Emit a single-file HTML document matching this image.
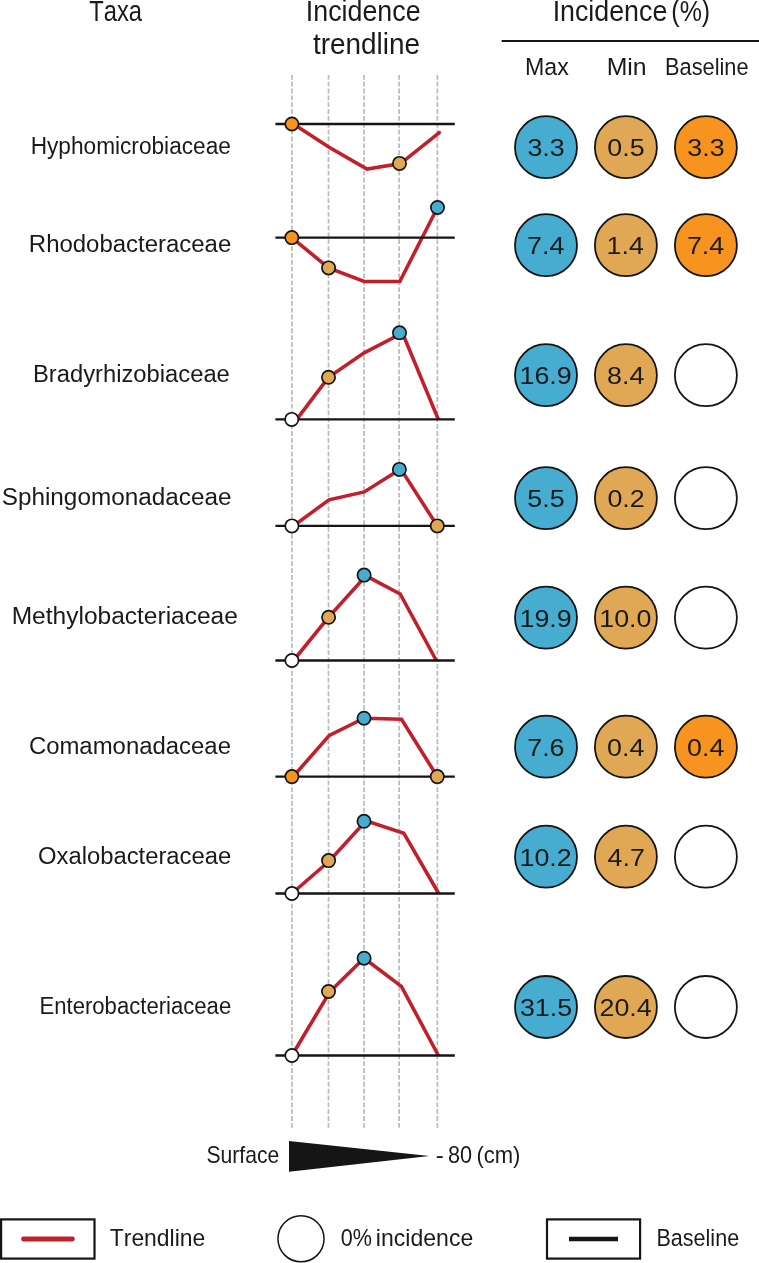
<!DOCTYPE html>
<html><head><meta charset="utf-8"><style>
html,body{margin:0;padding:0;background:#fff;}
body{width:759px;height:1263px;overflow:hidden;}
svg{display:block;will-change:transform;}
text{font-family:"Liberation Sans", sans-serif;font-kerning:none;}
</style></head><body>
<svg width="759" height="1263" viewBox="0 0 759 1263">
<rect width="759" height="1263" fill="#fff"/>
<text x="89.17" y="20.80" font-size="28.80" textLength="52.83" lengthAdjust="spacingAndGlyphs" fill="#1a1a1a">Taxa</text>
<text x="305.83" y="20.70" font-size="28.80" textLength="114.77" lengthAdjust="spacingAndGlyphs" fill="#1a1a1a">Incidence</text>
<text x="312.88" y="53.90" font-size="28.80" textLength="107.16" lengthAdjust="spacingAndGlyphs" fill="#1a1a1a">trendline</text>
<text x="552.63" y="21.00" font-size="28.80" textLength="114.66" lengthAdjust="spacingAndGlyphs" fill="#1a1a1a">Incidence</text>
<text x="671.35" y="21.00" font-size="28.80" textLength="38.79" lengthAdjust="spacingAndGlyphs" fill="#1a1a1a">(%)</text>
<line x1="501.7" y1="41" x2="759" y2="41" stroke="#151515" stroke-width="1.8"/>
<text x="525.00" y="74.50" font-size="24.50" textLength="43.75" lengthAdjust="spacingAndGlyphs" fill="#1a1a1a">Max</text>
<text x="606.67" y="74.50" font-size="24.50" textLength="39.94" lengthAdjust="spacingAndGlyphs" fill="#1a1a1a">Min</text>
<text x="665.01" y="74.80" font-size="24.50" textLength="83.55" lengthAdjust="spacingAndGlyphs" fill="#1a1a1a">Baseline</text>
<line x1="291.9" y1="74.9" x2="291.9" y2="1127.8" stroke="#bababa" stroke-width="1.7" stroke-dasharray="4.8 2.05"/>
<line x1="328.5" y1="74.9" x2="328.5" y2="1127.8" stroke="#bababa" stroke-width="1.7" stroke-dasharray="4.8 2.05"/>
<line x1="364.1" y1="74.9" x2="364.1" y2="1127.8" stroke="#bababa" stroke-width="1.7" stroke-dasharray="4.8 2.05"/>
<line x1="399.1" y1="74.9" x2="399.1" y2="1127.8" stroke="#bababa" stroke-width="1.7" stroke-dasharray="4.8 2.05"/>
<line x1="437.4" y1="74.9" x2="437.4" y2="1127.8" stroke="#bababa" stroke-width="1.7" stroke-dasharray="4.8 2.05"/>
<text x="30.64" y="154.00" font-size="24.70" textLength="200.27" lengthAdjust="spacingAndGlyphs" fill="#1a1a1a">Hyphomicrobiaceae</text>
<text x="28.84" y="252.40" font-size="24.70" textLength="202.43" lengthAdjust="spacingAndGlyphs" fill="#1a1a1a">Rhodobacteraceae</text>
<text x="32.95" y="382.10" font-size="24.70" textLength="196.91" lengthAdjust="spacingAndGlyphs" fill="#1a1a1a">Bradyrhizobiaceae</text>
<text x="1.70" y="505.10" font-size="24.70" textLength="229.78" lengthAdjust="spacingAndGlyphs" fill="#1a1a1a">Sphingomonadaceae</text>
<text x="11.69" y="624.40" font-size="24.70" textLength="226.20" lengthAdjust="spacingAndGlyphs" fill="#1a1a1a">Methylobacteriaceae</text>
<text x="28.89" y="753.80" font-size="24.70" textLength="202.08" lengthAdjust="spacingAndGlyphs" fill="#1a1a1a">Comamonadaceae</text>
<text x="37.97" y="863.70" font-size="24.70" textLength="193.29" lengthAdjust="spacingAndGlyphs" fill="#1a1a1a">Oxalobacteraceae</text>
<text x="39.49" y="1013.80" font-size="24.70" textLength="191.70" lengthAdjust="spacingAndGlyphs" fill="#1a1a1a">Enterobacteriaceae</text>
<polyline points="291.9,123.0 328.7,147.0 367.0,169.0 400.5,163.6 439.3,132.6" fill="none" stroke="#c1202b" stroke-width="3.6" stroke-linejoin="miter" stroke-linecap="butt"/>
<circle cx="439.3" cy="132.6" r="1.8" fill="#c1202b"/>
<line x1="275.4" y1="124.0" x2="454.8" y2="124.0" stroke="#151515" stroke-width="2.4"/>
<circle cx="291.9" cy="124.0" r="6.65" fill="#f6941f" stroke="#151515" stroke-width="1.7"/>
<circle cx="399.5" cy="163.4" r="6.65" fill="#e0a855" stroke="#151515" stroke-width="1.7"/>
<polyline points="291.8,237.6 328.6,267.9 364.2,281.5 399.8,281.5 437.5,207.5" fill="none" stroke="#c1202b" stroke-width="3.6" stroke-linejoin="miter" stroke-linecap="butt"/>
<line x1="275.4" y1="237.6" x2="454.8" y2="237.6" stroke="#151515" stroke-width="2.4"/>
<circle cx="291.8" cy="237.6" r="6.65" fill="#f6941f" stroke="#151515" stroke-width="1.7"/>
<circle cx="328.6" cy="267.9" r="6.65" fill="#e0a855" stroke="#151515" stroke-width="1.7"/>
<circle cx="437.5" cy="207.5" r="6.65" fill="#46acd0" stroke="#151515" stroke-width="1.7"/>
<polyline points="296.7,419.4 328.5,377.3 364.2,352.8 402.5,333.0 438.3,419.4" fill="none" stroke="#c1202b" stroke-width="3.6" stroke-linejoin="miter" stroke-linecap="butt"/>
<line x1="275.4" y1="419.4" x2="454.8" y2="419.4" stroke="#151515" stroke-width="2.4"/>
<circle cx="291.7" cy="419.4" r="6.65" fill="#ffffff" stroke="#151515" stroke-width="1.7"/>
<circle cx="328.5" cy="377.3" r="6.65" fill="#e0a855" stroke="#151515" stroke-width="1.7"/>
<circle cx="399.5" cy="332.8" r="6.65" fill="#46acd0" stroke="#151515" stroke-width="1.7"/>
<polyline points="293.5,525.9 329.0,499.8 364.2,491.9 400.7,468.9 437.3,525.9" fill="none" stroke="#c1202b" stroke-width="3.6" stroke-linejoin="miter" stroke-linecap="butt"/>
<line x1="275.4" y1="525.9" x2="454.8" y2="525.9" stroke="#151515" stroke-width="2.4"/>
<circle cx="291.9" cy="525.9" r="6.65" fill="#ffffff" stroke="#151515" stroke-width="1.7"/>
<circle cx="399.4" cy="469.4" r="6.65" fill="#46acd0" stroke="#151515" stroke-width="1.7"/>
<circle cx="437.3" cy="525.9" r="6.65" fill="#e0a855" stroke="#151515" stroke-width="1.7"/>
<polyline points="293.5,660.5 328.4,617.3 366.0,575.8 400.2,594.0 436.3,660.5" fill="none" stroke="#c1202b" stroke-width="3.6" stroke-linejoin="miter" stroke-linecap="butt"/>
<line x1="275.4" y1="660.5" x2="454.8" y2="660.5" stroke="#151515" stroke-width="2.4"/>
<circle cx="291.9" cy="660.5" r="6.65" fill="#ffffff" stroke="#151515" stroke-width="1.7"/>
<circle cx="328.6" cy="617.3" r="6.65" fill="#e0a855" stroke="#151515" stroke-width="1.7"/>
<circle cx="364.1" cy="575.1" r="6.65" fill="#46acd0" stroke="#151515" stroke-width="1.7"/>
<polyline points="291.9,778.0 329.3,735.4 364.0,718.2 401.5,719.2 437.3,776.6" fill="none" stroke="#c1202b" stroke-width="3.6" stroke-linejoin="miter" stroke-linecap="butt"/>
<line x1="275.4" y1="776.6" x2="454.8" y2="776.6" stroke="#151515" stroke-width="2.4"/>
<circle cx="291.9" cy="776.6" r="6.65" fill="#f6941f" stroke="#151515" stroke-width="1.7"/>
<circle cx="364.0" cy="718.2" r="6.65" fill="#46acd0" stroke="#151515" stroke-width="1.7"/>
<circle cx="437.3" cy="776.6" r="6.65" fill="#e0a855" stroke="#151515" stroke-width="1.7"/>
<polyline points="291.9,893.5 329.3,861.0 366.0,820.8 403.8,833.2 438.7,893.5" fill="none" stroke="#c1202b" stroke-width="3.6" stroke-linejoin="miter" stroke-linecap="butt"/>
<line x1="275.4" y1="893.5" x2="454.8" y2="893.5" stroke="#151515" stroke-width="2.4"/>
<circle cx="291.9" cy="893.5" r="6.65" fill="#ffffff" stroke="#151515" stroke-width="1.7"/>
<circle cx="328.6" cy="860.6" r="6.65" fill="#e0a855" stroke="#151515" stroke-width="1.7"/>
<circle cx="364.0" cy="821.3" r="6.65" fill="#46acd0" stroke="#151515" stroke-width="1.7"/>
<polyline points="291.9,1055.5 330.0,991.5 364.1,958.2 401.4,986.4 438.4,1055.5" fill="none" stroke="#c1202b" stroke-width="3.6" stroke-linejoin="miter" stroke-linecap="butt"/>
<line x1="275.4" y1="1055.5" x2="454.8" y2="1055.5" stroke="#151515" stroke-width="2.4"/>
<circle cx="291.9" cy="1055.5" r="6.65" fill="#ffffff" stroke="#151515" stroke-width="1.7"/>
<circle cx="328.5" cy="991.5" r="6.65" fill="#e0a855" stroke="#151515" stroke-width="1.7"/>
<circle cx="364.1" cy="958.2" r="6.65" fill="#46acd0" stroke="#151515" stroke-width="1.7"/>
<circle cx="546.0" cy="147.2" r="31.0" fill="#46acd0" stroke="#151515" stroke-width="1.8"/>
<text x="527.42" y="156.10" font-size="24.40" textLength="37.31" lengthAdjust="spacingAndGlyphs" fill="#1a1a1a">3.3</text>
<circle cx="625.9" cy="147.2" r="31.0" fill="#e0a855" stroke="#151515" stroke-width="1.8"/>
<text x="607.28" y="156.10" font-size="24.40" textLength="37.31" lengthAdjust="spacingAndGlyphs" fill="#1a1a1a">0.5</text>
<circle cx="705.9" cy="147.2" r="31.0" fill="#f6941f" stroke="#151515" stroke-width="1.8"/>
<text x="687.32" y="156.10" font-size="24.40" textLength="37.31" lengthAdjust="spacingAndGlyphs" fill="#1a1a1a">3.3</text>
<circle cx="546.0" cy="245.2" r="31.0" fill="#46acd0" stroke="#151515" stroke-width="1.8"/>
<text x="527.05" y="254.10" font-size="24.40" textLength="37.31" lengthAdjust="spacingAndGlyphs" fill="#1a1a1a">7.4</text>
<circle cx="625.9" cy="245.2" r="31.0" fill="#e0a855" stroke="#151515" stroke-width="1.8"/>
<text x="606.62" y="254.10" font-size="24.40" textLength="37.31" lengthAdjust="spacingAndGlyphs" fill="#1a1a1a">1.4</text>
<circle cx="705.9" cy="245.2" r="31.0" fill="#f6941f" stroke="#151515" stroke-width="1.8"/>
<text x="686.95" y="254.10" font-size="24.40" textLength="37.31" lengthAdjust="spacingAndGlyphs" fill="#1a1a1a">7.4</text>
<circle cx="546.0" cy="375.2" r="31.0" fill="#46acd0" stroke="#151515" stroke-width="1.8"/>
<text x="519.49" y="384.10" font-size="24.40" textLength="52.24" lengthAdjust="spacingAndGlyphs" fill="#1a1a1a">16.9</text>
<circle cx="625.9" cy="375.2" r="31.0" fill="#e0a855" stroke="#151515" stroke-width="1.8"/>
<text x="607.05" y="384.10" font-size="24.40" textLength="37.31" lengthAdjust="spacingAndGlyphs" fill="#1a1a1a">8.4</text>
<circle cx="705.9" cy="375.2" r="31.0" fill="#ffffff" stroke="#151515" stroke-width="1.8"/>
<circle cx="546.0" cy="498.2" r="31.0" fill="#46acd0" stroke="#151515" stroke-width="1.8"/>
<text x="527.37" y="507.10" font-size="24.40" textLength="37.31" lengthAdjust="spacingAndGlyphs" fill="#1a1a1a">5.5</text>
<circle cx="625.9" cy="498.2" r="31.0" fill="#e0a855" stroke="#151515" stroke-width="1.8"/>
<text x="607.40" y="507.10" font-size="24.40" textLength="37.31" lengthAdjust="spacingAndGlyphs" fill="#1a1a1a">0.2</text>
<circle cx="705.9" cy="498.2" r="31.0" fill="#ffffff" stroke="#151515" stroke-width="1.8"/>
<circle cx="546.0" cy="617.7" r="31.0" fill="#46acd0" stroke="#151515" stroke-width="1.8"/>
<text x="519.49" y="626.60" font-size="24.40" textLength="52.24" lengthAdjust="spacingAndGlyphs" fill="#1a1a1a">19.9</text>
<circle cx="625.9" cy="617.7" r="31.0" fill="#e0a855" stroke="#151515" stroke-width="1.8"/>
<text x="599.28" y="626.60" font-size="24.40" textLength="52.24" lengthAdjust="spacingAndGlyphs" fill="#1a1a1a">10.0</text>
<circle cx="705.9" cy="617.7" r="31.0" fill="#ffffff" stroke="#151515" stroke-width="1.8"/>
<circle cx="546.0" cy="746.7" r="31.0" fill="#46acd0" stroke="#151515" stroke-width="1.8"/>
<text x="527.25" y="755.60" font-size="24.40" textLength="37.31" lengthAdjust="spacingAndGlyphs" fill="#1a1a1a">7.6</text>
<circle cx="625.9" cy="746.7" r="31.0" fill="#e0a855" stroke="#151515" stroke-width="1.8"/>
<text x="607.11" y="755.60" font-size="24.40" textLength="37.31" lengthAdjust="spacingAndGlyphs" fill="#1a1a1a">0.4</text>
<circle cx="705.9" cy="746.7" r="31.0" fill="#f6941f" stroke="#151515" stroke-width="1.8"/>
<text x="687.11" y="755.60" font-size="24.40" textLength="37.31" lengthAdjust="spacingAndGlyphs" fill="#1a1a1a">0.4</text>
<circle cx="546.0" cy="856.7" r="31.0" fill="#46acd0" stroke="#151515" stroke-width="1.8"/>
<text x="519.53" y="865.60" font-size="24.40" textLength="52.24" lengthAdjust="spacingAndGlyphs" fill="#1a1a1a">10.2</text>
<circle cx="625.9" cy="856.7" r="31.0" fill="#e0a855" stroke="#151515" stroke-width="1.8"/>
<text x="607.61" y="865.60" font-size="24.40" textLength="37.31" lengthAdjust="spacingAndGlyphs" fill="#1a1a1a">4.7</text>
<circle cx="705.9" cy="856.7" r="31.0" fill="#ffffff" stroke="#151515" stroke-width="1.8"/>
<circle cx="546.0" cy="1007.0" r="31.0" fill="#46acd0" stroke="#151515" stroke-width="1.8"/>
<text x="519.93" y="1015.90" font-size="24.40" textLength="52.24" lengthAdjust="spacingAndGlyphs" fill="#1a1a1a">31.5</text>
<circle cx="625.9" cy="1007.0" r="31.0" fill="#e0a855" stroke="#151515" stroke-width="1.8"/>
<text x="599.50" y="1015.90" font-size="24.40" textLength="52.24" lengthAdjust="spacingAndGlyphs" fill="#1a1a1a">20.4</text>
<circle cx="705.9" cy="1007.0" r="31.0" fill="#ffffff" stroke="#151515" stroke-width="1.8"/>
<text x="206.44" y="1162.80" font-size="23.60" textLength="72.90" lengthAdjust="spacingAndGlyphs" fill="#1a1a1a">Surface</text>
<polygon points="289,1141.1 289,1171.8 429.4,1155.9" fill="#151515"/>
<text x="435.83" y="1162.50" font-size="23.60" textLength="8.05" lengthAdjust="spacingAndGlyphs" fill="#1a1a1a">-</text>
<text x="448.06" y="1162.50" font-size="23.60" textLength="24.09" lengthAdjust="spacingAndGlyphs" fill="#1a1a1a">80</text>
<text x="476.43" y="1162.50" font-size="23.60" textLength="44.03" lengthAdjust="spacingAndGlyphs" fill="#1a1a1a">(cm)</text>
<rect x="1.1" y="1219.4" width="93.4" height="39.2" fill="none" stroke="#151515" stroke-width="2.2"/>
<line x1="23.5" y1="1239" x2="72.4" y2="1239" stroke="#c1202b" stroke-width="4.8" stroke-linecap="round"/>
<text x="109.79" y="1246.20" font-size="24.50" textLength="95.43" lengthAdjust="spacingAndGlyphs" fill="#1a1a1a">Trendline</text>
<circle cx="301" cy="1238.8" r="23.05" fill="#fff" stroke="#151515" stroke-width="1.5"/>
<text x="340.86" y="1246.00" font-size="24.50" textLength="31.21" lengthAdjust="spacingAndGlyphs" fill="#1a1a1a">0%</text>
<text x="375.86" y="1246.00" font-size="24.50" textLength="97.37" lengthAdjust="spacingAndGlyphs" fill="#1a1a1a">incidence</text>
<rect x="547" y="1219.4" width="93.1" height="39.2" fill="none" stroke="#151515" stroke-width="2.2"/>
<line x1="569" y1="1239" x2="618" y2="1239" stroke="#151515" stroke-width="4.6"/>
<text x="656.43" y="1245.90" font-size="24.50" textLength="82.73" lengthAdjust="spacingAndGlyphs" fill="#1a1a1a">Baseline</text>
</svg>
</body></html>
